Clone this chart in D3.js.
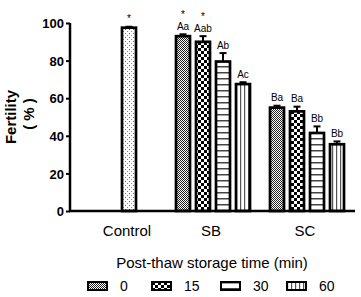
<!DOCTYPE html>
<html>
<head>
<meta charset="utf-8">
<script src="https://cdnjs.cloudflare.com/ajax/libs/d3/7.8.5/d3.min.js"></script>
<style>
  body { margin: 0; background: #fff; }
  svg { display: block; font-family: Arial, "Liberation Sans", sans-serif; }
</style>
</head>
<body>
<div id="chart"></div>
<script>
const groups = ["Control", "SB", "SC"];
const times = ["0", "15", "30", "60"];
const yTicks = [0, 20, 40, 60, 80, 100];

const controlMean = 97.5;
const controlErr = 0.5;
const controlLabel = "*";

const sbMean = [93, 90, 79.5, 67.5];
const sbErr = [1, 3, 4.5, 1];
const sbLetters = ["Aa", "Aab", "Ab", "Ac"];
const sbStars = ["*", "*", "", ""];

const scMean = [55, 53, 41.5, 35.5];
const scErr = [1, 2.5, 3.5, 1.5];
const scLetters = ["Ba", "Ba", "Bb", "Bb"];
const scStars = ["", "", "", ""];

const width = 361, height = 297;
const svg = d3.select("#chart").append("svg")
    .attr("width", width).attr("height", height);

// patterns
const defs = svg.append("defs");
function pat(id, w, h, draw) {
    const p = defs.append("pattern").attr("id", id)
        .attr("patternUnits", "userSpaceOnUse").attr("width", w).attr("height", h);
    p.append("rect").attr("width", w).attr("height", h).attr("fill", "#fff");
    draw(p);
}
pat("p-ctrl", 4, 4, p => {
    p.append("rect").attr("x", 1).attr("y", 1).attr("width", 1).attr("height", 1).attr("fill", "#666");
    p.append("rect").attr("x", 3).attr("y", 3).attr("width", 1).attr("height", 1).attr("fill", "#888");
});
pat("p-0", 2, 2, p => {
    p.append("rect").attr("x", 0).attr("y", 0).attr("width", 1).attr("height", 1).attr("fill", "#222");
    p.append("rect").attr("x", 1).attr("y", 1).attr("width", 1).attr("height", 1).attr("fill", "#222");
});
pat("p-15", 6, 6, p => {
    p.append("rect").attr("x", 0).attr("y", 0).attr("width", 3).attr("height", 3).attr("fill", "#000");
    p.append("rect").attr("x", 3).attr("y", 3).attr("width", 3).attr("height", 3).attr("fill", "#000");
});
pat("p-30", 6, 6, p => {
    p.append("rect").attr("x", 0).attr("y", 0).attr("width", 6).attr("height", 1.5).attr("fill", "#444");
});
pat("p-60", 4, 4, p => {
    p.append("rect").attr("x", 0).attr("y", 0).attr("width", 1.2).attr("height", 4).attr("fill", "#555");
});
const fills = { "0": "url(#p-0)", "15": "url(#p-15)", "30": "url(#p-30)", "60": "url(#p-60)" };

// scales
const y = d3.scaleLinear().domain([0, 100]).range([211, 23]);
const xg = d3.scaleBand().domain(groups).range([72, 354]);
const xt = d3.scaleBand().domain(times).range([0, xg.bandwidth()])
    .paddingInner(0.3).paddingOuter(0.5);

const bars = [];
bars.push({ group: "Control", slot: "30", mean: controlMean, err: controlErr, fill: "url(#p-ctrl)", letter: "", star: controlLabel });
times.forEach((t, i) => {
    bars.push({ group: "SB", slot: t, mean: sbMean[i], err: sbErr[i], fill: fills[t], letter: sbLetters[i], star: sbStars[i] });
});
times.forEach((t, i) => {
    bars.push({ group: "SC", slot: t, mean: scMean[i], err: scErr[i], fill: fills[t], letter: scLetters[i], star: scStars[i] });
});
const cx = d => xg(d.group) + xt(d.slot) + xt.bandwidth() / 2;

// bars
svg.selectAll(".bar").data(bars).enter().append("rect")
    .attr("class", "bar")
    .attr("x", d => xg(d.group) + xt(d.slot))
    .attr("y", d => y(d.mean))
    .attr("width", xt.bandwidth())
    .attr("height", d => y(0) - y(d.mean))
    .attr("fill", d => d.fill)
    .attr("stroke", "#000")
    .attr("stroke-width", 2.7);

// error bars (upper only)
svg.selectAll(".err").data(bars).enter().append("line")
    .attr("x1", cx).attr("x2", cx)
    .attr("y1", d => y(d.mean)).attr("y2", d => y(d.mean + d.err))
    .attr("stroke", "#000").attr("stroke-width", 2);
svg.selectAll(".cap").data(bars).enter().append("line")
    .attr("x1", d => cx(d) - 3.5).attr("x2", d => cx(d) + 3.5)
    .attr("y1", d => y(d.mean + d.err)).attr("y2", d => y(d.mean + d.err))
    .attr("stroke", "#000").attr("stroke-width", 2);

// letters and stars
svg.selectAll(".letter").data(bars.filter(d => d.letter)).enter().append("text")
    .attr("x", cx).attr("y", d => y(d.mean + d.err) - 4.5)
    .attr("text-anchor", "middle").attr("fill", "#000").style("font-size", "10px")
    .text(d => d.letter);
svg.selectAll(".star").data(bars.filter(d => d.star)).enter().append("text")
    .attr("x", cx).attr("y", d => y(d.mean + d.err) - (d.letter ? 16.5 : 4.5))
    .attr("text-anchor", "middle").attr("fill", "#000").style("font-size", "10px")
    .text(d => d.star);

// axes
const yAxis = svg.append("g").attr("transform", "translate(70,0)")
    .call(d3.axisLeft(y).tickValues(yTicks).tickSize(4).tickPadding(2));
yAxis.select(".domain").attr("stroke-width", 2.5).attr("d", `M0,${y(100)}V${y(0) + 1}`);
yAxis.selectAll(".tick line").attr("stroke-width", 2);
yAxis.selectAll(".tick text").style("font-size", "13px").style("font-weight", "bold")
    .style("font-family", "Arial, 'Liberation Sans', sans-serif").attr("fill", "#000").attr("dy", "0.36em");

svg.append("line").attr("x1", 69).attr("x2", 355).attr("y1", y(0)).attr("y2", y(0))
    .attr("stroke", "#000").attr("stroke-width", 2.5);

svg.selectAll(".glabel").data(groups).enter().append("text")
    .attr("x", d => xg(d) + xg.bandwidth() / 2 + (d === "Control" ? 8 : -2))
    .attr("y", 236).attr("text-anchor", "middle").style("font-size", "15px")
    .text(d => d);

// y title
svg.append("text").attr("text-anchor", "middle").style("font-weight", "bold").style("font-size", "15px")
    .attr("transform", "translate(16,117) rotate(-90)").text("Fertility");
svg.append("text").attr("text-anchor", "middle").style("font-weight", "bold").style("font-size", "15px")
    .attr("transform", "translate(34,114) rotate(-90)").text("( % )");

// legend
svg.append("text").attr("x", 212).attr("y", 268).attr("text-anchor", "middle")
    .style("font-size", "15px").text("Post-thaw storage time (min)");
const legX = { "0": 88, "15": 152, "30": 221, "60": 287 };
const leg = svg.selectAll(".leg").data(times).enter().append("g")
    .attr("transform", t => `translate(${legX[t]},282)`);
leg.append("rect").attr("width", 19).attr("height", 8)
    .attr("fill", t => fills[t]).attr("stroke", "#000").attr("stroke-width", 2);
leg.append("text").attr("x", 32).attr("y", 9).style("font-size", "14px").text(t => t);
</script>
</body>
</html>
